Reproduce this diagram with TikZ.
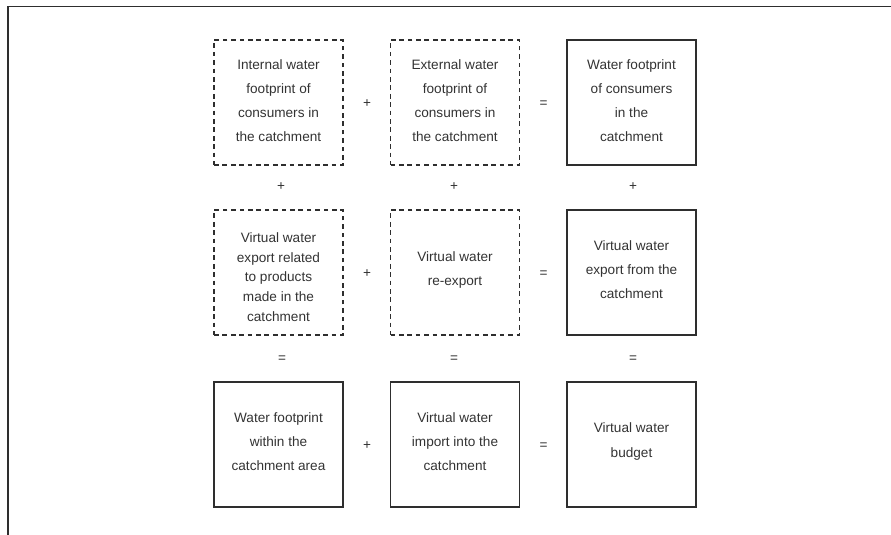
\documentclass[tikz,border=0pt]{standalone}
\usepackage{fontspec}
\setmainfont{Liberation Sans}
\definecolor{linec}{HTML}{2E2E2E}
\definecolor{textc}{HTML}{333333}
\begin{document}
\begin{tikzpicture}[x=1pt,y=-1pt]
\tikzset{
  box/.style={draw=linec, line width=1.2pt, minimum width=129pt, minimum height=125pt, inner sep=0pt},
  dbox/.style={box, dash pattern=on 4.7pt off 3.7pt},
  txt/.style={text=textc, align=center, inner sep=0pt, font=\fontsize{13.6}{24.1}\selectfont},
  tight/.style={font=\fontsize{13.6}{19.7}\selectfont},
  sign/.style={text=textc, font=\fontsize{13.6}{16}\selectfont, inner sep=0pt},
  frame/.style={draw=linec, line width=1.2pt}
}
\useasboundingbox (0,0) rectangle (891,535);
\coordinate (fa) at (8,535);
\coordinate (fb) at (8,6.5);
\coordinate (fc) at (891,6.5);
\draw[frame] (fa) -- (fb) -- (fc);

% row 1
\node[dbox] (b11) at (278.5,102.5) {};
\node[dbox] (b12) at (455,102.5) {};
\node[box]  (b13) at (631.5,102.5) {};
% row 2
\node[dbox] (b21) at (278.5,272.5) {};
\node[dbox] (b22) at (455,272.5) {};
\node[box]  (b23) at (631.5,272.5) {};
% row 3
\node[box] (b31) at (278.5,444.5) {};
\node[box] (b32) at (455,444.5) {};
\node[box] (b33) at (631.5,444.5) {};

% texts
\node[txt] (t11) at ([yshift=2pt]b11.center) {Internal water\\footprint of\\consumers in\\the catchment};
\node[txt] (t12) at ([yshift=2pt]b12.center) {External water\\footprint of\\consumers in\\the catchment};
\node[txt] (t13) at ([yshift=2pt]b13.center) {Water footprint\\of consumers\\in the\\catchment};
\node[txt,tight] (t21) at ([yshift=-4.5pt]b21.center) {Virtual water\\export related\\to products\\made in the\\catchment};
\node[txt] (t22) at ([yshift=2.5pt]b22.center) {Virtual water\\re-export};
\node[txt] (t23) at ([yshift=2.5pt]b23.center) {Virtual water\\export from the\\catchment};
\node[txt] (t31) at ([yshift=2.5pt]b31.center) {Water footprint\\within the\\catchment area};
\node[txt] (t32) at ([yshift=2.5pt]b32.center) {Virtual water\\import into the\\catchment};
\node[txt] (t33) at ([yshift=3pt]b33.center) {Virtual water\\budget};

% horizontal signs
\node[sign] (h11) at (367,104) {+};
\node[sign] (h12) at (543.5,104) {=};
\node[sign] (h21) at (367,274) {+};
\node[sign] (h22) at (543.5,274) {=};
\node[sign] (h31) at (367,446) {+};
\node[sign] (h32) at (543.5,446) {=};
% vertical signs
\node[sign] (v11) at (281,187) {+};
\node[sign] (v12) at (454,187) {+};
\node[sign] (v13) at (633,187) {+};
\node[sign] (v21) at (282,359) {=};
\node[sign] (v22) at (454,359) {=};
\node[sign] (v23) at (633,359) {=};
\end{tikzpicture}
\end{document}
